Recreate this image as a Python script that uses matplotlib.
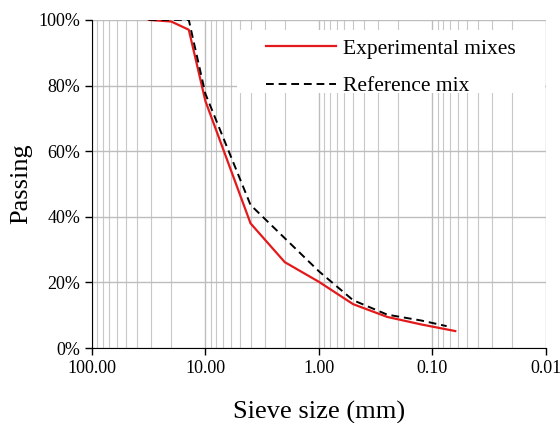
import matplotlib.pyplot as plt
from matplotlib.patches import Rectangle
from matplotlib.ticker import FixedLocator, NullFormatter, LogLocator

plt.rcParams['font.family'] = ['Liberation Serif', 'DejaVu Serif']

# sieve sizes (mm) and passing (%)
exp_size = [31.5, 20, 14, 10, 4, 2, 1, 0.5, 0.25, 0.125, 0.063]
exp_pass = [100, 99.5, 97, 75.3, 38, 26.2, 20.2, 13.4, 9.5, 7.2, 5.2]
ref_size = [31.5, 20, 14, 10, 4, 2, 1, 0.5, 0.25, 0.125, 0.075]
ref_pass = [100, 100, 100, 77.5, 43.6, 33.5, 23.4, 14.6, 10.2, 8.4, 6.7]

x_ticks = [100, 10, 1, 0.1, 0.01]
x_labels = ["100.00", "10.00", "1.00", "0.10", "0.01"]
y_ticks = [0, 20, 40, 60, 80, 100]

fig = plt.figure(figsize=(5.6, 4.23), dpi=100)
ax = fig.add_axes([0.164, 0.177, 0.811, 0.776])

ax.plot(exp_size, exp_pass, color='#e31a1c', lw=1.6, label='Experimental mixes', zorder=3)
ax.plot(ref_size, ref_pass, color='black', lw=1.4, ls=(0, (4, 2.5)), label='Reference mix', zorder=3)

ax.set_xscale('log')
ax.set_xlim(100, 0.01)
ax.set_ylim(0, 100)
ax.xaxis.set_major_locator(FixedLocator(x_ticks))
ax.set_xticklabels(x_labels)
ax.xaxis.set_minor_locator(LogLocator(base=10, subs=range(2, 10)))
ax.xaxis.set_minor_formatter(NullFormatter())
ax.set_yticks(y_ticks)
ax.set_yticklabels(['%d%%' % v for v in y_ticks])

ax.grid(True, which='major', color='#bdbdbd', lw=1.0)
ax.grid(True, which='minor', axis='x', color='#c8c8c8', lw=0.8)
ax.tick_params(axis='both', which='major', labelsize=13, length=5, direction='out', width=1)
ax.tick_params(axis='x', which='minor', length=0)
for s in ['top', 'right']:
    ax.spines[s].set_visible(False)

ax.set_xlabel('Sieve size (mm)', fontsize=19, labelpad=17)
ax.set_ylabel('Passing', fontsize=19, labelpad=4)

# white legend area like the spreadsheet chart
ax.add_patch(Rectangle((0.319, 0.777), 0.679, 0.193, transform=ax.transAxes,
                       facecolor='white', edgecolor='none', zorder=2.5))
leg = ax.legend(loc='upper left', bbox_to_anchor=(0.36, 0.975), fontsize=15.5, frameon=False,
                handlelength=3.25, handletextpad=0.33, borderpad=0, labelspacing=0.8)
leg.set_zorder(4)

fig.savefig('out.png', dpi=100)
